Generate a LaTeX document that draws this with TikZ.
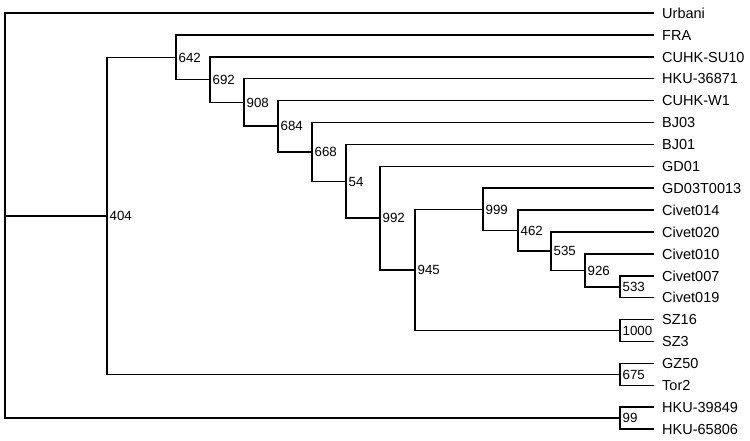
\documentclass[tikz,border=0pt]{standalone}
\usepackage{fontspec}
\setmainfont{Liberation Sans}
\usepackage{tikz}
\newcommand{\lblfont}{\fontsize{14.5}{16}\selectfont}
\newcommand{\bootfont}{\fontsize{13.3}{15}\selectfont}

\begin{document}
\begin{tikzpicture}[
    x=1pt, y=-1pt,
    br/.style={line width=1.5pt, line join=miter},
    leaf/.style={anchor=west, inner xsep=8pt, inner ysep=0pt,
                 text height=10.4pt, text depth=0pt, font=\lblfont},
    boot/.style={inner sep=0pt, label distance=2.5pt, text height=9.5pt,
                 text depth=0pt, font=\bootfont},
  ]
  \useasboundingbox (0,0) rectangle (750,440);

  % leaves
  \node[leaf] (urbani) at (654,13)    {Urbani};
  \node[leaf] (fra)    at (654,34.9)  {FRA};
  \node[leaf] (su10)   at (654,56.8)  {CUHK-SU10};
  \node[leaf] (hku368) at (654,78.7)  {HKU-36871};
  \node[leaf] (w1)     at (654,100.6) {CUHK-W1};
  \node[leaf] (bj03)   at (654,122.5) {BJ03};
  \node[leaf] (bj01)   at (654,144.4) {BJ01};
  \node[leaf] (gd01)   at (654,166.3) {GD01};
  \node[leaf] (gd03)   at (654,188.2) {GD03T0013};
  \node[leaf] (cv014)  at (654,210.1) {Civet014};
  \node[leaf] (cv020)  at (654,232)   {Civet020};
  \node[leaf] (cv010)  at (654,253.9) {Civet010};
  \node[leaf] (cv007)  at (654,275.8) {Civet007};
  \node[leaf] (cv019)  at (654,297.7) {Civet019};
  \node[leaf] (sz16)   at (654,319.6) {SZ16};
  \node[leaf] (sz3)    at (654,341.5) {SZ3};
  \node[leaf] (gz50)   at (654,363.4) {GZ50};
  \node[leaf] (tor2)   at (654,385.3) {Tor2};
  \node[leaf] (hku398) at (654,407.2) {HKU-39849};
  \node[leaf] (hku658) at (654,429.1) {HKU-65806};

  % internal nodes with support values
  \coordinate (root) at (5,215.8);
  \coordinate[label={[boot]right:404}]  (n404)  at (107,215.8);
  \coordinate[label={[boot]right:642}]  (n642)  at (176,57.3);
  \coordinate[label={[boot]right:692}]  (n692)  at (210,79.6);
  \coordinate[label={[boot]right:908}]  (n908)  at (244,102.5);
  \coordinate[label={[boot]right:684}]  (n684)  at (278,126.2);
  \coordinate[label={[boot]right:668}]  (n668)  at (312,151.9);
  \coordinate[label={[boot]right:54}]   (n54)   at (346,181.3);
  \coordinate[label={[boot]right:992}]  (n992)  at (380,218.1);
  \coordinate[label={[boot]right:945}]  (n945)  at (415,270);
  \coordinate[label={[boot]right:999}]  (n999)  at (483,209.4);
  \coordinate[label={[boot]right:462}]  (n462)  at (518,230.6);
  \coordinate[label={[boot]right:535}]  (n535)  at (551,251.2);
  \coordinate[label={[boot]right:926}]  (n926)  at (585,270.3);
  \coordinate[label={[boot]right:533}]  (n533)  at (620,286.75);
  \coordinate[label={[boot]right:1000}] (n1000) at (620,330.55);
  \coordinate[label={[boot]right:675}]  (n675)  at (620,374.35);
  \coordinate[label={[boot]right:99}]   (n99)   at (620,418.15);

  % branches
  \draw[br] (root) |- (urbani.west);
  \draw[br] (root) |- (n404);
  \draw[br] (root) |- (n99);
  \draw[br] (n404) |- (n642);
  \draw[br] (n404) |- (n675);
  \draw[br] (n642) |- (fra.west);
  \draw[br] (n642) |- (n692);
  \draw[br] (n692) |- (su10.west);
  \draw[br] (n692) |- (n908);
  \draw[br] (n908) |- (hku368.west);
  \draw[br] (n908) |- (n684);
  \draw[br] (n684) |- (w1.west);
  \draw[br] (n684) |- (n668);
  \draw[br] (n668) |- (bj03.west);
  \draw[br] (n668) |- (n54);
  \draw[br] (n54) |- (bj01.west);
  \draw[br] (n54) |- (n992);
  \draw[br] (n992) |- (gd01.west);
  \draw[br] (n992) |- (n945);
  \draw[br] (n945) |- (n999);
  \draw[br] (n945) |- (n1000);
  \draw[br] (n999) |- (gd03.west);
  \draw[br] (n999) |- (n462);
  \draw[br] (n462) |- (cv014.west);
  \draw[br] (n462) |- (n535);
  \draw[br] (n535) |- (cv020.west);
  \draw[br] (n535) |- (n926);
  \draw[br] (n926) |- (cv010.west);
  \draw[br] (n926) |- (n533);
  \draw[br] (n533) |- (cv007.west);
  \draw[br] (n533) |- (cv019.west);
  \draw[br] (n1000) |- (sz16.west);
  \draw[br] (n1000) |- (sz3.west);
  \draw[br] (n675) |- (gz50.west);
  \draw[br] (n675) |- (tor2.west);
  \draw[br] (n99) |- (hku398.west);
  \draw[br] (n99) |- (hku658.west);
\end{tikzpicture}
\end{document}
